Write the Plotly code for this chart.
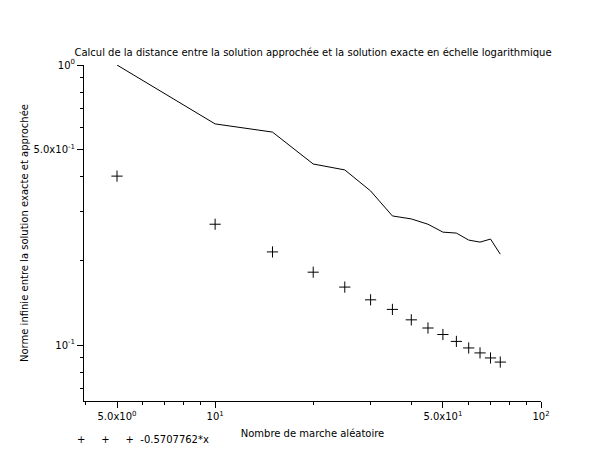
import plotly.graph_objects as go
import numpy as np

x_vals = [5, 10, 15, 20, 25, 30, 35, 40, 45, 50, 55, 60, 65, 70, 75]
dist_vals = [1.0, 0.616, 0.576, 0.443, 0.422, 0.355, 0.289, 0.282, 0.270,
             0.253, 0.251, 0.237, 0.233, 0.239, 0.211]
fit_vals = [0.401, 0.270, 0.215, 0.182, 0.161, 0.145, 0.134, 0.123, 0.115,
            0.109, 0.103, 0.0976, 0.0937, 0.0899, 0.0869]

x_ticks = [5, 10, 50, 100]
x_labels = ["5.0x10<sup>0</sup>", "10<sup>1</sup>", "5.0x10<sup>1</sup>", "10<sup>2</sup>"]
x_minor = [4, 6, 7, 8, 9, 20, 30, 40, 60, 70, 80, 90]
y_ticks = [0.1, 0.5, 1]
y_labels = ["10<sup>-1</sup>", "5.0x10<sup>-1</sup>", "10<sup>0</sup>"]
y_minor = [0.07, 0.08, 0.09, 0.2, 0.3, 0.4, 0.6, 0.7, 0.8, 0.9]

fig = go.Figure()
fig.add_trace(go.Scatter(x=x_vals, y=dist_vals, mode='lines',
                         line=dict(color='black', width=1), showlegend=False))
fig.add_trace(go.Scatter(x=x_vals, y=fit_vals, mode='markers',
                         marker=dict(symbol='cross-thin', size=8,
                                     line=dict(color='black', width=1)),
                         showlegend=False))

axis_common = dict(type='log', showgrid=False, zeroline=False, showline=True,
                   linecolor='black', linewidth=1, ticks='outside', ticklen=6,
                   tickcolor='black', tickfont=dict(size=10, color='black'),
                   automargin=False)

fig.update_layout(
    width=610, height=460,
    paper_bgcolor='white', plot_bgcolor='white',
    font=dict(family='DejaVu Sans', size=10, color='black'),
    margin=dict(l=76, r=77, t=57, b=67),
    title=dict(text="Calcul de la distance entre la solution approchée et la solution exacte en échelle logarithmique",
               x=0.5, xanchor='center', y=0.91, font=dict(size=10)),
    xaxis=dict(range=[np.log10(3.96), 2], tickvals=x_ticks, ticktext=x_labels,
               minor=dict(tickvals=x_minor, ticks='outside', ticklen=3, tickcolor='black'),
               title=dict(text="Nombre de marche aléatoire", font=dict(size=10), standoff=8),
               **axis_common),
    yaxis=dict(range=[-1.2, 0], tickvals=y_ticks, ticktext=y_labels,
               minor=dict(tickvals=y_minor, ticks='outside', ticklen=3, tickcolor='black'),
               title=dict(text="Norme infinie entre la solution exacte et approchée", font=dict(size=10), standoff=2),
               **axis_common),
)
fig.add_annotation(text="+     +     +  -0.5707762*x", xref='paper', yref='paper',
                   x=-0.02, y=-0.115, xanchor='left', yanchor='middle',
                   showarrow=False, font=dict(size=10))
fig.write_html("out.html")
